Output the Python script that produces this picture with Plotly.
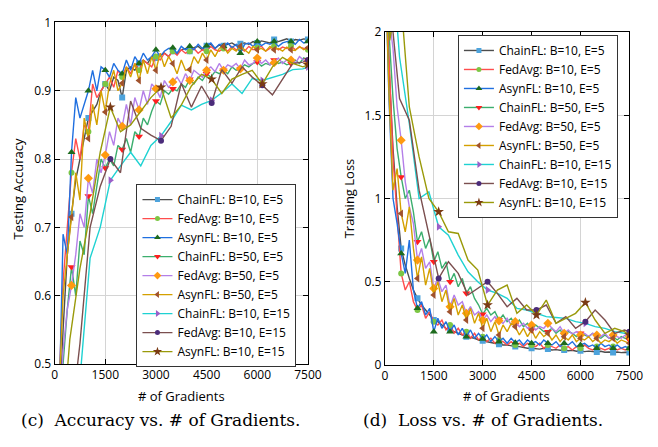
import plotly.graph_objects as go

W, H = 658, 447

# ---------------- data ----------------
GRAD_E5 = list(range(0, 7501, 125))          # 61 sample points (E=5 runs)
GRAD_E15 = [0, 150, 450, 750, 1050, 1350, 1650, 1950, 2250, 2550, 2850, 3150, 3450,
            3750, 4050, 4350, 4650, 4950, 5250, 5550, 5850, 6150, 6450, 6750, 7050,
            7350, 7500]                       # 27 sample points (E=15 runs)
MARK_E5 = list(range(4, 61, 4))
MARK_E15 = [6, 11, 16, 21, 26]

SERIES_NAMES = ["ChainFL: B=10, E=5", "FedAvg: B=10, E=5", "AsynFL: B=10, E=5",
                "ChainFL: B=50, E=5", "FedAvg: B=50, E=5", "AsynFL: B=50, E=5",
                "ChainFL: B=10, E=15", "FedAvg: B=10, E=15", "AsynFL: B=10, E=15"]

X_TICKS = [0, 1500, 3000, 4500, 6000, 7500]
ACC_TICKS = [0.5, 0.6, 0.7, 0.8, 0.9, 1.0]
ACC_TICK_TEXT = ["0.5", "0.6", "0.7", "0.8", "0.9", "1"]
LOSS_TICKS = [0, 0.5, 1.0, 1.5, 2.0]
LOSS_TICK_TEXT = ["0", "0.5", "1", "1.5", "2"]

# Testing accuracy
ACC_CHAIN_B10_E5 = [0.28, 0.40, 0.55, 0.66, 0.72, 0.77, 0.80, 0.83, 0.86, 0.87,
                    0.88, 0.90, 0.91, 0.90, 0.92, 0.915, 0.89, 0.93, 0.935, 0.93,
                    0.94, 0.945, 0.94, 0.95, 0.948, 0.952, 0.955, 0.95, 0.958, 0.955,
                    0.96, 0.962, 0.958, 0.963, 0.965, 0.96, 0.966, 0.968, 0.962, 0.967,
                    0.966, 0.968, 0.97, 0.966, 0.969, 0.97, 0.968, 0.972, 0.97, 0.973,
                    0.972, 0.97, 0.975, 0.972, 0.974, 0.976, 0.972, 0.975, 0.974, 0.976, 0.975]
ACC_FEDAVG_B10_E5 = [0.30, 0.45, 0.62, 0.70, 0.78, 0.83, 0.80, 0.85, 0.84, 0.91,
                     0.89, 0.90, 0.91, 0.92, 0.905, 0.93, 0.92, 0.935, 0.925, 0.94,
                     0.93, 0.945, 0.94, 0.935, 0.95, 0.945, 0.955, 0.95, 0.958, 0.952,
                     0.96, 0.955, 0.958, 0.962, 0.955, 0.96, 0.958, 0.965, 0.96, 0.958,
                     0.962, 0.958, 0.965, 0.96, 0.962, 0.958, 0.965, 0.96, 0.963, 0.965,
                     0.958, 0.962, 0.966, 0.96, 0.964, 0.962, 0.966, 0.96, 0.964, 0.962, 0.96]
ACC_ASYN_B10_E5 = [0.30, 0.42, 0.69, 0.66, 0.81, 0.89, 0.86, 0.88, 0.90, 0.93,
                   0.90, 0.935, 0.93, 0.92, 0.94, 0.93, 0.925, 0.945, 0.93, 0.95,
                   0.94, 0.955, 0.945, 0.95, 0.96, 0.95, 0.958, 0.962, 0.963, 0.955,
                   0.965, 0.96, 0.965, 0.96, 0.968, 0.962, 0.966, 0.97, 0.962, 0.968,
                   0.965, 0.97, 0.963, 0.968, 0.955, 0.968, 0.97, 0.965, 0.972, 0.966,
                   0.97, 0.968, 0.972, 0.965, 0.97, 0.972, 0.972, 0.968, 0.975, 0.97, 0.972]
ACC_CHAIN_B50_E5 = [0.30, 0.40, 0.50, 0.58, 0.642, 0.60, 0.68, 0.66, 0.746, 0.72,
                    0.76, 0.80, 0.787, 0.80, 0.79, 0.82, 0.814, 0.83, 0.81, 0.84,
                    0.833, 0.86, 0.85, 0.87, 0.885, 0.88, 0.90, 0.895, 0.903, 0.90,
                    0.91, 0.905, 0.917, 0.91, 0.92, 0.915, 0.925, 0.92, 0.928, 0.925,
                    0.93, 0.925, 0.935, 0.93, 0.932, 0.938, 0.935, 0.94, 0.942, 0.936,
                    0.94, 0.938, 0.945, 0.94, 0.942, 0.938, 0.94, 0.945, 0.94, 0.948, 0.945]
ACC_FEDAVG_B50_E5 = [0.30, 0.42, 0.52, 0.58, 0.615, 0.66, 0.72, 0.70, 0.772, 0.75,
                     0.80, 0.78, 0.806, 0.84, 0.82, 0.86, 0.848, 0.88, 0.85, 0.89,
                     0.872, 0.90, 0.88, 0.91, 0.903, 0.89, 0.915, 0.905, 0.913, 0.92,
                     0.91, 0.925, 0.915, 0.93, 0.925, 0.92, 0.93, 0.935, 0.928, 0.94,
                     0.93, 0.938, 0.935, 0.94, 0.932, 0.945, 0.938, 0.94, 0.948, 0.94,
                     0.945, 0.938, 0.941, 0.948, 0.94, 0.945, 0.945, 0.94, 0.95, 0.945, 0.943]
ACC_ASYN_B50_E5 = [0.30, 0.45, 0.60, 0.66, 0.715, 0.78, 0.74, 0.86, 0.83, 0.88,
                   0.85, 0.90, 0.869, 0.91, 0.93, 0.90, 0.911, 0.935, 0.92, 0.94,
                   0.915, 0.945, 0.925, 0.95, 0.93, 0.955, 0.935, 0.95, 0.94, 0.925,
                   0.945, 0.93, 0.931, 0.95, 0.94, 0.955, 0.945, 0.96, 0.95, 0.962,
                   0.965, 0.955, 0.962, 0.958, 0.965, 0.96, 0.955, 0.965, 0.96, 0.962,
                   0.958, 0.965, 0.96, 0.962, 0.958, 0.964, 0.96, 0.959, 0.965, 0.96, 0.963]
ACC_CHAIN_B10_E15 = [0.20, 0.22, 0.30, 0.48, 0.655, 0.70, 0.769, 0.79, 0.81, 0.79,
                     0.82, 0.834, 0.855, 0.879, 0.872, 0.88, 0.886, 0.897, 0.91, 0.896,
                     0.918, 0.915, 0.92, 0.924, 0.931, 0.932, 0.935]
ACC_FEDAVG_B10_E15 = [0.20, 0.25, 0.40, 0.53, 0.70, 0.76, 0.80, 0.78, 0.885, 0.845,
                      0.835, 0.827, 0.848, 0.911, 0.876, 0.907, 0.882, 0.931, 0.911, 0.935,
                      0.92, 0.908, 0.894, 0.917, 0.94, 0.942, 0.945]
ACC_ASYN_B10_E15 = [0.20, 0.35, 0.536, 0.64, 0.72, 0.81, 0.876, 0.84, 0.85, 0.87,
                    0.89, 0.905, 0.86, 0.879, 0.907, 0.924, 0.917, 0.896, 0.917, 0.924,
                    0.93, 0.91, 0.935, 0.949, 0.94, 0.935, 0.938]

# Training loss
LOSS_CHAIN_B10_E5 = [2.5, 1.8, 1.3, 0.95, 0.70, 0.60, 0.52, 0.45, 0.40, 0.36,
                     0.33, 0.30, 0.27, 0.26, 0.24, 0.22, 0.21, 0.20, 0.19, 0.18,
                     0.17, 0.165, 0.16, 0.15, 0.145, 0.14, 0.135, 0.13, 0.125, 0.12,
                     0.12, 0.115, 0.11, 0.11, 0.105, 0.10, 0.10, 0.098, 0.095, 0.10,
                     0.095, 0.09, 0.092, 0.088, 0.09, 0.085, 0.088, 0.082, 0.085, 0.08,
                     0.083, 0.08, 0.078, 0.082, 0.076, 0.078, 0.075, 0.078, 0.074, 0.076, 0.075]
LOSS_FEDAVG_B10_E5 = [2.5, 1.9, 1.24, 0.9, 0.55, 0.45, 0.50, 0.38, 0.33, 0.36,
                      0.28, 0.32, 0.26, 0.24, 0.27, 0.21, 0.24, 0.19, 0.22, 0.18,
                      0.20, 0.16, 0.19, 0.15, 0.17, 0.14, 0.16, 0.13, 0.15, 0.14,
                      0.12, 0.14, 0.12, 0.13, 0.11, 0.13, 0.12, 0.11, 0.13, 0.10,
                      0.12, 0.11, 0.10, 0.12, 0.10, 0.11, 0.09, 0.11, 0.10, 0.12,
                      0.10, 0.09, 0.11, 0.10, 0.09, 0.10, 0.11, 0.09, 0.10, 0.09, 0.10]
LOSS_ASYN_B10_E5 = [2.5, 1.6, 1.0, 0.85, 0.67, 0.55, 0.75, 0.45, 0.34, 0.38,
                    0.30, 0.34, 0.20, 0.28, 0.22, 0.26, 0.20, 0.24, 0.18, 0.22,
                    0.17, 0.21, 0.16, 0.19, 0.156, 0.18, 0.14, 0.17, 0.14, 0.16,
                    0.13, 0.16, 0.133, 0.15, 0.12, 0.15, 0.13, 0.14, 0.12, 0.15,
                    0.13, 0.12, 0.14, 0.11, 0.13, 0.12, 0.14, 0.11, 0.12, 0.13,
                    0.11, 0.12, 0.10, 0.13, 0.11, 0.12, 0.10, 0.12, 0.10, 0.11, 0.10]
LOSS_CHAIN_B50_E5 = [2.5, 2.0, 1.6, 1.3, 1.13, 1.0, 1.05, 0.92, 0.74, 0.80,
                     0.70, 0.76, 0.62, 0.68, 0.58, 0.62, 0.50, 0.55, 0.47, 0.52,
                     0.43, 0.47, 0.40, 0.36, 0.305, 0.34, 0.30, 0.32, 0.27, 0.30,
                     0.26, 0.28, 0.24, 0.27, 0.23, 0.25, 0.21, 0.24, 0.22, 0.20,
                     0.20, 0.22, 0.19, 0.21, 0.18, 0.20, 0.19, 0.17, 0.19, 0.18,
                     0.17, 0.19, 0.17, 0.16, 0.18, 0.16, 0.17, 0.15, 0.17, 0.16, 0.15]
LOSS_FEDAVG_B50_E5 = [2.5, 2.1, 1.9, 1.55, 1.35, 1.1, 0.95, 0.85, 0.63, 0.70,
                      0.58, 0.62, 0.46, 0.52, 0.44, 0.48, 0.35, 0.42, 0.36, 0.38,
                      0.31, 0.35, 0.30, 0.32, 0.27, 0.30, 0.26, 0.29, 0.265, 0.25,
                      0.28, 0.24, 0.26, 0.23, 0.25, 0.22, 0.24, 0.21, 0.23, 0.22,
                      0.25, 0.22, 0.20, 0.23, 0.19, 0.21, 0.185, 0.20, 0.18, 0.19,
                      0.17, 0.19, 0.18, 0.17, 0.19, 0.16, 0.18, 0.17, 0.16, 0.18, 0.17]
LOSS_ASYN_B50_E5 = [2.5, 1.64, 1.05, 1.18, 0.91, 0.80, 0.95, 0.70, 0.52, 0.65,
                    0.48, 0.58, 0.42, 0.50, 0.38, 0.45, 0.32, 0.40, 0.30, 0.36,
                    0.27, 0.34, 0.25, 0.31, 0.22, 0.28, 0.20, 0.26, 0.18, 0.24,
                    0.20, 0.25, 0.23, 0.18, 0.22, 0.17, 0.21, 0.16, 0.20, 0.17,
                    0.19, 0.15, 0.18, 0.14, 0.17, 0.15, 0.18, 0.14, 0.16, 0.15,
                    0.17, 0.14, 0.16, 0.13, 0.15, 0.14, 0.16, 0.13, 0.15, 0.14, 0.13]
LOSS_CHAIN_B10_E15 = [3.0, 2.6, 1.85, 1.45, 1.0, 1.04, 0.83, 0.78, 0.66, 0.56,
                      0.50, 0.45, 0.43, 0.40, 0.34, 0.33, 0.31, 0.29, 0.285, 0.28,
                      0.26, 0.25, 0.23, 0.22, 0.20, 0.19, 0.19]
LOSS_FEDAVG_B10_E15 = [3.0, 2.2, 1.6, 1.47, 1.05, 0.78, 0.52, 0.62, 0.55, 0.42,
                       0.46, 0.50, 0.43, 0.35, 0.40, 0.33, 0.33, 0.36, 0.25, 0.29,
                       0.22, 0.26, 0.33, 0.27, 0.19, 0.21, 0.20]
LOSS_ASYN_B10_E15 = [3.0, 1.95, 2.3, 1.55, 1.25, 1.0, 0.92, 0.80, 0.79, 0.63,
                     0.57, 0.36, 0.45, 0.48, 0.31, 0.36, 0.30, 0.39, 0.25, 0.28,
                     0.31, 0.375, 0.27, 0.19, 0.22, 0.20, 0.18]

ACC_SERIES = [ACC_CHAIN_B10_E5, ACC_FEDAVG_B10_E5, ACC_ASYN_B10_E5,
              ACC_CHAIN_B50_E5, ACC_FEDAVG_B50_E5, ACC_ASYN_B50_E5,
              ACC_CHAIN_B10_E15, ACC_FEDAVG_B10_E15, ACC_ASYN_B10_E15]
LOSS_SERIES = [LOSS_CHAIN_B10_E5, LOSS_FEDAVG_B10_E5, LOSS_ASYN_B10_E5,
               LOSS_CHAIN_B50_E5, LOSS_FEDAVG_B50_E5, LOSS_ASYN_B50_E5,
               LOSS_CHAIN_B10_E15, LOSS_FEDAVG_B10_E15, LOSS_ASYN_B10_E15]

# ---------------- styles ----------------
LINE_COLORS = ["#4d4d4d", "#ff4d4d", "#1f6fe0", "#3cae6e", "#b47fe8",
               "#d4a000", "#1ed2d2", "#7b4f4f", "#9a9a0a"]
MARKER_COLORS = ["#4da3dc", "#7cc644", "#1d6b1d", "#ff1f1f", "#ff9a10",
                 "#a0522d", "#9b5fc8", "#4b2c7a", "#7a3a14"]
MARKER_SYMBOLS = ["square", "circle", "triangle-up", "triangle-down", "diamond",
                  "triangle-left", "triangle-right", "circle", "star"]
MARKER_SIZES = [6, 6, 7, 7, 7, 7, 7, 6, 8]

FONT = "Open Sans"

fig = go.Figure()


def add_panel(series_list, xa, ya, legend_name):
    for k, vals in enumerate(series_list):
        if k < 6:
            xs, marks = GRAD_E5, MARK_E5
        else:
            xs, marks = GRAD_E15, MARK_E15
        fig.add_trace(go.Scatter(
            x=xs, y=vals, mode="lines", xaxis=xa, yaxis=ya,
            line=dict(color=LINE_COLORS[k], width=1.4),
            showlegend=False, hoverinfo="skip"))
        fig.add_trace(go.Scatter(
            x=[xs[i] for i in marks], y=[vals[i] for i in marks], mode="markers",
            xaxis=xa, yaxis=ya,
            marker=dict(color=MARKER_COLORS[k], symbol=MARKER_SYMBOLS[k],
                        size=MARKER_SIZES[k], line=dict(width=0)),
            showlegend=False, hoverinfo="skip"))
    for k in range(len(series_list)):
        fig.add_trace(go.Scatter(
            x=[None], y=[None], mode="lines+markers", xaxis=xa, yaxis=ya,
            name=SERIES_NAMES[k], legend=legend_name,
            line=dict(color=LINE_COLORS[k], width=1.4),
            marker=dict(color=MARKER_COLORS[k], symbol=MARKER_SYMBOLS[k],
                        size=MARKER_SIZES[k] - 1, line=dict(width=0))))


add_panel(ACC_SERIES, "x", "y", "legend")
add_panel(LOSS_SERIES, "x2", "y2", "legend2")


def px_x(p):
    return p / W


def px_y(p):
    return 1 - p / H


axis_common = dict(
    showline=True, linecolor="black", linewidth=1, mirror="allticks",
    ticks="inside", ticklen=5, tickcolor="black", showgrid=True,
    gridcolor="#d4d4d4", gridwidth=1, zeroline=False,
    tickfont=dict(family=FONT, size=12, color="black"))

fig.update_layout(
    width=W, height=H, margin=dict(l=0, r=0, t=0, b=0),
    paper_bgcolor="white", plot_bgcolor="white",
    font=dict(family=FONT, color="black"),
    xaxis=dict(domain=[px_x(53), px_x(313)], range=[0, 7500], tickvals=X_TICKS,
               anchor="y", **axis_common),
    yaxis=dict(domain=[px_y(369), px_y(14)], range=[0.5, 1.0], tickvals=ACC_TICKS,
               ticktext=ACC_TICK_TEXT, anchor="x", **axis_common),
    xaxis2=dict(domain=[px_x(392), px_x(643)], range=[0, 7500], tickvals=X_TICKS,
                anchor="y2", **axis_common),
    yaxis2=dict(domain=[px_y(370), px_y(24)], range=[0, 2.0], tickvals=LOSS_TICKS,
                ticktext=LOSS_TICK_TEXT, anchor="x2", **axis_common),
    legend=dict(x=px_x(137), y=px_y(182), xanchor="left", yanchor="top",
                bgcolor="white", bordercolor="#333333", borderwidth=1,
                font=dict(family=FONT, size=12, color="black"),
                tracegroupgap=0),
    legend2=dict(x=px_x(467), y=px_y(27), xanchor="left", yanchor="top",
                 bgcolor="white", bordercolor="#333333", borderwidth=1,
                 font=dict(family=FONT, size=12, color="black"),
                 tracegroupgap=0),
    showlegend=True,
)

ann = [
    dict(text="Testing Accuracy", x=px_x(15), y=px_y(187), textangle=-90,
         font=dict(family=FONT, size=13)),
    dict(text="Training Loss", x=px_x(355), y=px_y(197), textangle=-90,
         font=dict(family=FONT, size=13)),
    dict(text="# of Gradients", x=px_x(183), y=px_y(402),
         font=dict(family=FONT, size=13)),
    dict(text="# of Gradients", x=px_x(517), y=px_y(402),
         font=dict(family=FONT, size=13)),
    dict(text="(c)  Accuracy vs. # of Gradients.", x=px_x(162), y=px_y(427),
         font=dict(family="DejaVu Serif", size=17)),
    dict(text="(d)  Loss vs. # of Gradients.", x=px_x(493), y=px_y(427),
         font=dict(family="DejaVu Serif", size=17)),
]
for a in ann:
    a.update(xref="paper", yref="paper", showarrow=False, xanchor="center",
             yanchor="middle")
fig.update_layout(annotations=ann)

fig.write_html("out.html")
